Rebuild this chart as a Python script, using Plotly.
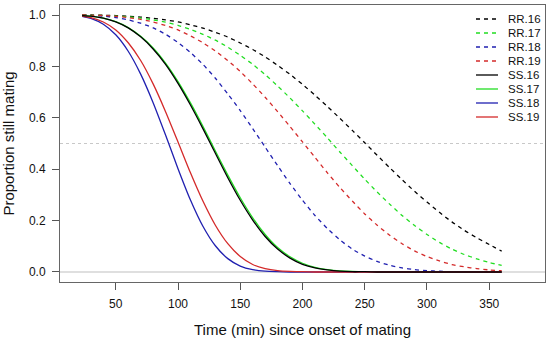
import plotly.graph_objects as go

# Time points (min since onset of mating)
time_min = [23, 30, 40, 50, 60, 70, 80, 90, 100, 110, 120, 130, 140, 150, 160, 170, 180, 190,
            200, 210, 220, 230, 240, 250, 260, 270, 280, 290, 300, 310, 320, 330, 340, 350, 360]

rr16 = [1.000, 1.000, 0.999, 0.998, 0.995, 0.992, 0.987, 0.981, 0.973, 0.962, 0.949, 0.933, 0.914, 0.891,
        0.866, 0.837, 0.804, 0.769, 0.730, 0.688, 0.644, 0.598, 0.551, 0.503, 0.454, 0.406, 0.359, 0.314,
        0.272, 0.232, 0.195, 0.162, 0.133, 0.107, 0.081]
rr17 = [1.000, 0.999, 0.998, 0.996, 0.993, 0.988, 0.981, 0.972, 0.960, 0.944, 0.925, 0.902, 0.875, 0.843,
        0.808, 0.768, 0.724, 0.677, 0.627, 0.575, 0.522, 0.467, 0.414, 0.361, 0.311, 0.264, 0.220, 0.181,
        0.146, 0.115, 0.089, 0.068, 0.051, 0.037, 0.026]
rr18 = [0.999, 0.998, 0.996, 0.990, 0.981, 0.968, 0.950, 0.925, 0.893, 0.854, 0.808, 0.754, 0.693, 0.628,
        0.558, 0.486, 0.414, 0.344, 0.279, 0.220, 0.169, 0.125, 0.089, 0.062, 0.041, 0.026, 0.016, 0.009,
        0.005, 0.003, 0.001, 0.001, 0.000, 0.000, 0.000]
rr19 = [1.000, 0.999, 0.998, 0.995, 0.990, 0.983, 0.973, 0.959, 0.942, 0.919, 0.892, 0.860, 0.823, 0.780,
        0.732, 0.680, 0.624, 0.566, 0.506, 0.446, 0.386, 0.329, 0.276, 0.226, 0.182, 0.143, 0.110, 0.082,
        0.060, 0.043, 0.029, 0.020, 0.013, 0.008, 0.005]
ss16 = [0.998, 0.996, 0.988, 0.973, 0.950, 0.915, 0.868, 0.808, 0.734, 0.650, 0.558, 0.462, 0.367, 0.279,
        0.202, 0.138, 0.089, 0.054, 0.030, 0.016, 0.008, 0.003, 0.001, 0.001, 0.000, 0.000, 0.000, 0.000,
        0.000, 0.000, 0.000, 0.000, 0.000, 0.000, 0.000]
ss17 = [0.998, 0.996, 0.988, 0.974, 0.951, 0.917, 0.872, 0.813, 0.741, 0.658, 0.567, 0.471, 0.377, 0.289,
        0.211, 0.146, 0.095, 0.059, 0.034, 0.018, 0.009, 0.004, 0.002, 0.001, 0.000, 0.000, 0.000, 0.000,
        0.000, 0.000, 0.000, 0.000, 0.000, 0.000, 0.000]
ss18 = [0.995, 0.987, 0.964, 0.923, 0.859, 0.770, 0.659, 0.533, 0.402, 0.280, 0.178, 0.102, 0.052, 0.023,
        0.009, 0.003, 0.001, 0.000, 0.000, 0.000, 0.000, 0.000, 0.000, 0.000, 0.000, 0.000, 0.000, 0.000,
        0.000, 0.000, 0.000, 0.000, 0.000, 0.000, 0.000]
ss19 = [0.996, 0.990, 0.973, 0.942, 0.892, 0.823, 0.732, 0.624, 0.506, 0.386, 0.276, 0.182, 0.110, 0.060,
        0.029, 0.013, 0.005, 0.002, 0.001, 0.000, 0.000, 0.000, 0.000, 0.000, 0.000, 0.000, 0.000, 0.000,
        0.000, 0.000, 0.000, 0.000, 0.000, 0.000, 0.000]

series_names = ["RR.16", "RR.17", "RR.18", "RR.19", "SS.16", "SS.17", "SS.18", "SS.19"]
series_values = [rr16, rr17, rr18, rr19, ss16, ss17, ss18, ss19]

x_ticks = [50, 100, 150, 200, 250, 300, 350]
y_ticks = [0.0, 0.2, 0.4, 0.6, 0.8, 1.0]

colors = {"16": "#000000", "17": "#22dd22", "18": "#2020b0", "19": "#d42a2a"}
FONT = "Liberation Sans, Arial, Helvetica, sans-serif"

fig = go.Figure()

# reference lines
fig.add_hline(y=0, line=dict(color="#d4d4d4", width=1.6), layer="below")
fig.add_hline(y=0.5, line=dict(color="#c8c8c8", width=1, dash="3px,3px"), layer="below")

draw_order = [0, 1, 2, 3, 5, 6, 7, 4]
for i in draw_order:
    name = series_names[i]
    grp, yr = name.split(".")
    fig.add_trace(go.Scatter(
        x=time_min, y=series_values[i], mode="lines", name=name, showlegend=False,
        line=dict(color=colors[yr], width=1.3, shape="spline", smoothing=0.6,
                  dash="4px,4px" if grp == "RR" else "solid"),
    ))

# legend drawn manually (compact R-style)
L, R_, T, B = 60, 545, 5, 282
W, H = R_ - L, B - T
for i, name in enumerate(series_names):
    grp, yr = name.split(".")
    yc = 19 + 14 * i
    yp = (B - yc) / H
    fig.add_shape(type="line", xref="paper", yref="paper",
                  x0=(476 - L) / W, x1=(498 - L) / W, y0=yp, y1=yp,
                  line=dict(color=colors[yr], width=1.3, dash="4px,4px" if grp == "RR" else "solid"))
    fig.add_annotation(xref="paper", yref="paper", x=(506 - L) / W, y=yp, text=name,
                       showarrow=False, xanchor="left", yanchor="middle",
                       font=dict(family=FONT, size=11.5, color="#111"))

fig.update_layout(
    width=550, height=342,
    margin=dict(l=L, r=550 - R_, t=T, b=342 - B),
    paper_bgcolor="white", plot_bgcolor="white",
    font=dict(family=FONT, size=12, color="#111"),
    showlegend=False,
    xaxis=dict(range=[5.2, 394.8], tickvals=x_ticks, ticktext=[str(v) for v in x_ticks],
               showgrid=False, zeroline=False, showline=True, mirror=True,
               linecolor="#666", linewidth=1, ticks="outside", ticklen=7, tickcolor="#555",
               tickfont=dict(size=12, family=FONT, color="#111"), ticklabelstandoff=4,
               title=dict(text="Time (min) since onset of mating", font=dict(size=15, family=FONT, color="#111"),
                          standoff=14)),
    yaxis=dict(range=[-0.039, 1.039], tickvals=y_ticks, ticktext=[f"{v:.1f}" for v in y_ticks],
               showgrid=False, zeroline=False, showline=True, mirror=True,
               linecolor="#666", linewidth=1, ticks="outside", ticklen=7, tickcolor="#555",
               tickfont=dict(size=12, family=FONT, color="#111"), ticklabelstandoff=4,
               title=dict(text="Proportion still mating", font=dict(size=15, family=FONT, color="#111"),
                          standoff=12)),
)

fig.write_html("out.html", config={"displayModeBar": False},
               post_script="document.body.style.margin='0px';")
